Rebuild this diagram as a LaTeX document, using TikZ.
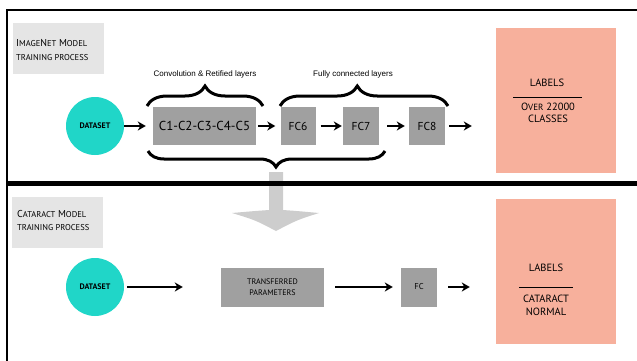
\documentclass[tikz,border=0pt]{standalone}
\usepackage{fontspec}
\setmainfont{PT Sans}
\newfontfamily\narrowfont{Liberation Sans}
\usetikzlibrary{arrows.meta,decorations.pathreplacing,calc}
\definecolor{turq}{RGB}{32,214,200}
\definecolor{boxgray}{RGB}{160,160,160}
\definecolor{titlegray}{RGB}{229,229,229}
\definecolor{salmon}{RGB}{247,176,156}
\definecolor{arrowgray}{RGB}{205,205,205}
\newcommand{\smc}[1]{{\fontsize{8.5}{9}\selectfont #1}}
\newcommand{\smcs}[1]{{\fontsize{8}{9}\selectfont #1}}
\begin{document}
\begin{tikzpicture}[x=1pt,y=-1pt,
  titlebox/.style={fill=titlegray,draw=none,minimum width=91pt,minimum height=51pt,inner sep=0pt},
  titletext/.style={anchor=west,align=left,inner sep=0pt,font=\fontsize{10}{14}\selectfont},
  dataset/.style={circle,fill=turq,draw=none,minimum size=58pt,inner sep=0pt,font=\bfseries\fontsize{8}{9}\selectfont},
  layerbox/.style={fill=boxgray,draw=none,inner sep=0pt,minimum height=38pt},
  labelbox/.style={fill=salmon,draw=none,minimum width=120pt,minimum height=145pt,inner sep=0pt},
  labeltext/.style={inner sep=0pt,align=center,font=\fontsize{10.5}{12.5}\selectfont},
  bracetext/.style={inner sep=0pt,font=\narrowfont\fontsize{8}{9}\selectfont},
  arr/.style={line width=2pt,-{Stealth[length=8pt,width=9pt,inset=2.5pt]}},
  bracestyle/.style={line width=3pt,decorate,decoration={brace,amplitude=#1}},
]
\useasboundingbox (0,0) rectangle (637,361);

% frame
\draw[line width=2.5pt] (7,361) -- (7,10) -- (637,10);

% ---------- top section ----------
\node[titlebox] (t1) at (58.5,48.5) {};
\node[titletext] (t1txt) at (16,50) {I\smc{MAGE}N\smc{ET} M\smc{ODEL}\\\smc{TRAINING PROCESS}};

\node[dataset] (ds1) at (95,126) {DATASET};
\node[layerbox,minimum width=103pt,font=\fontsize{13}{14}\selectfont] (cbox) at (204.5,126) {C1-C2-C3-C4-C5};
\node[layerbox,minimum width=35pt,font=\fontsize{11.5}{12}\selectfont] (fc6) at (298,126) {FC6};
\node[layerbox,minimum width=36pt,font=\fontsize{11.5}{12}\selectfont] (fc7) at (361,126) {FC7};
\node[layerbox,minimum width=36pt,font=\fontsize{11.5}{12}\selectfont] (fc8) at (427,126) {FC8};
\node[labelbox] (lab1) at (556,100.5) {};
\node[labeltext] (lab1a) at (547,83) {LABELS};
\node[labeltext] (lab1b) at (548,113) {O{\fontsize{9}{12}\selectfont VER} 22000\\CLASSES};
\draw[line width=0.8pt] ($(lab1a)+(-34,14)$) -- ($(lab1a)+(35,14)$);

\draw[arr,shorten >=7pt] (ds1) -- (cbox);
\draw[arr,shorten <=2pt,shorten >=5pt] (cbox) -- (fc6);
\draw[arr,shorten <=5pt,shorten >=1pt] (fc6) -- (fc7);
\draw[arr,shorten <=8pt,shorten >=4pt] (fc7) -- (fc8);
\draw[arr,shorten <=4pt,shorten >=24pt] (fc8.east) -- (fc8.east -| lab1.west);

% braces
\draw[bracestyle=20pt] (147,106) -- (263,106);
\node[bracetext] (conv) at (205,74) {Convolution \& Retified layers};
\draw[bracestyle=20pt,decoration={aspect=0.46}] (280,106) -- (448,106);
\node[bracetext] (fully) at (353,74) {Fully connected layers};
\draw[bracestyle=16pt,decoration={mirror,aspect=0.54}] (148,151) -- (385,151);

% transfer arrow
\fill[arrowgray] (269,172) -- (269,210) .. controls (255,211) .. (232,213)
  .. controls (255,220) .. (276,231) .. controls (297,220) .. (319,213)
  .. controls (297,211) .. (283,210) -- (283,172) -- cycle;

% divider
\draw[line width=5pt] (7,183) -- (637,183);

% ---------- bottom section ----------
\node[titlebox] (t2) at (57.5,222.5) {};
\node[titletext,font=\fontsize{10}{13}\selectfont] (t2txt) at (17,220.5) {C\smc{ATARACT} M\smc{ODEL}\\\smc{TRAINING PROCESS}};

\node[dataset] (ds2) at (95,287) {DATASET};
\node[layerbox,minimum width=103pt,minimum height=39pt,align=center,font=\fontsize{9}{11}\selectfont] (tp) at (272.5,287) {\smcs{TRANSFERRED}\\\smcs{PARAMETERS}};
\node[layerbox,minimum width=36pt,minimum height=39pt,font=\fontsize{8.5}{10}\selectfont] (fc) at (419,287) {FC};
\node[labelbox] (lab2) at (556,271.5) {};
\node[labeltext] (lab2a) at (546,268) {LABELS};
\node[labeltext] (lab2b) at (546,305.5) {CATARACT\\NORMAL};
\draw[line width=0.8pt] ($(lab2a)+(-27,19)$) -- ($(lab2a)+(27,19)$);

\draw[arr,shorten <=3pt,shorten >=38pt] (ds2) -- (tp);
\draw[arr,shorten <=11pt,shorten >=8pt] (tp) -- (fc);
\draw[arr,shorten <=11pt,shorten >=26pt] (fc.east) -- (fc.east -| lab2.west);
\end{tikzpicture}
\end{document}
